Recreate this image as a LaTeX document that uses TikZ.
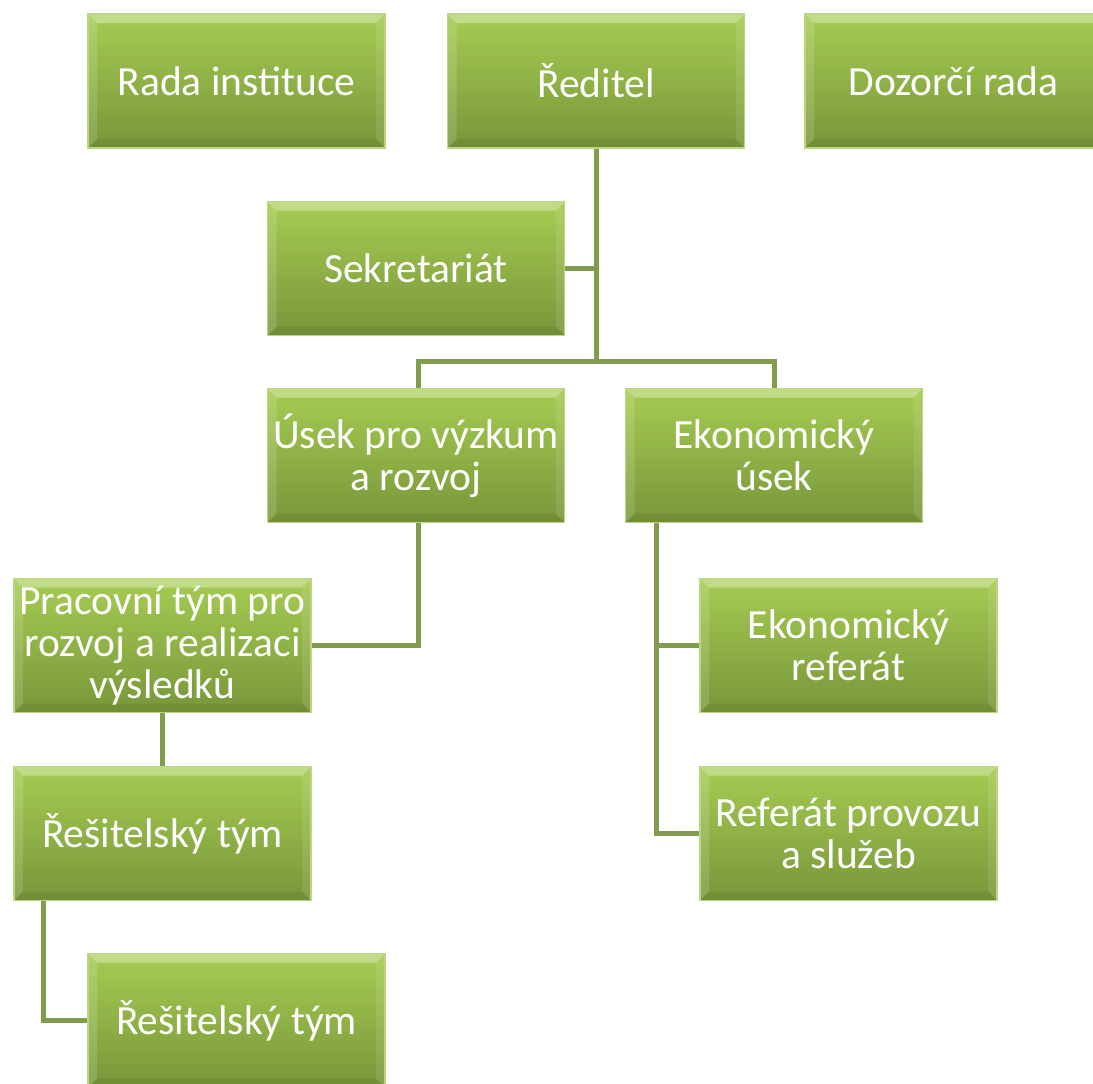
\documentclass[tikz,border=0pt]{standalone}
\usepackage{fontspec}
\setmainfont{Carlito}
\newfontfamily\boxfont{Carlito}
\definecolor{boxtop}{RGB}{166,204,82}
\definecolor{boxbot}{RGB}{120,150,58}
\definecolor{boxedge}{RGB}{186,214,128}
\definecolor{linkcol}{RGB}{128,156,76}
\begin{document}
\begin{tikzpicture}[x=1pt,y=-1pt,
  orgbox/.style={rectangle, minimum width=297pt, minimum height=134pt, inner sep=0pt,
    top color=boxtop, bottom color=boxbot, draw=boxedge, line width=1.5pt,
    text=white, align=center, font=\boxfont\fontsize{41.5}{42}\selectfont,
    path picture={
      \fill[white,opacity=0.32] (path picture bounding box.north west) -- (path picture bounding box.north east)
        -- ([shift={(-9pt,-9pt)}]path picture bounding box.north east) -- ([shift={(9pt,-9pt)}]path picture bounding box.north west) -- cycle;
      \fill[white,opacity=0.14] (path picture bounding box.north west) -- (path picture bounding box.south west)
        -- ([shift={(9pt,9pt)}]path picture bounding box.south west) -- ([shift={(9pt,-9pt)}]path picture bounding box.north west) -- cycle;
      \fill[black,opacity=0.06] (path picture bounding box.south west) -- (path picture bounding box.south east)
        -- ([shift={(-9pt,9pt)}]path picture bounding box.south east) -- ([shift={(9pt,9pt)}]path picture bounding box.south west) -- cycle;
      \fill[white,opacity=0.10] (path picture bounding box.north east) -- (path picture bounding box.south east)
        -- ([shift={(-9pt,9pt)}]path picture bounding box.south east) -- ([shift={(-9pt,-9pt)}]path picture bounding box.north east) -- cycle;
    }},
  link/.style={draw=linkcol, line width=5pt}
]
\useasboundingbox (0,0) rectangle (1093,1084);

\node[orgbox] (rada) at (236.5,81) {Rada instituce};
\node[orgbox] (reditel) at (596,81) {Ředitel};
\node[orgbox] (dozor) at (953.5,81) {Dozorčí rada};
\node[orgbox] (sekr) at (416,268.5) {Sekretariát};
\node[orgbox] (usek) at (416,455.5) {Úsek pro výzkum\\a rozvoj};
\node[orgbox] (ekon) at (774,455.5) {Ekonomický\\úsek};
\node[orgbox] (prac) at (162.5,645.5) {Pracovní tým pro\\rozvoj a realizaci\\výsledků};
\node[orgbox] (ekref) at (848.5,645.5) {Ekonomický\\referát};
\node[orgbox] (refprov) at (848.5,833.5) {Referát provozu\\a služeb};
\node[orgbox] (res1) at (162.5,833.5) {Řešitelský tým};
\node[orgbox] (res2) at (236.5,1020.5) {Řešitelský tým};

\coordinate (j1) at (596,361);

\path[link] (reditel.south) -- (j1);
\path[link] (sekr.east) -- (sekr.east -| j1);
\path[link] (j1) -| ([xshift=2pt]usek.north);
\path[link] (j1) -| (ekon.north);
\path[link] ([xshift=2pt]usek.south) |- (prac.east);
\path[link] (prac.south) -- (res1.north);
\path[link] ([xshift=30pt]res1.south west) |- (res2.west);
\path[link] ([xshift=32pt]ekon.south west) |- (ekref.west);
\path[link] ([xshift=32pt]ekon.south west) |- (refprov.west);
\end{tikzpicture}
\end{document}
